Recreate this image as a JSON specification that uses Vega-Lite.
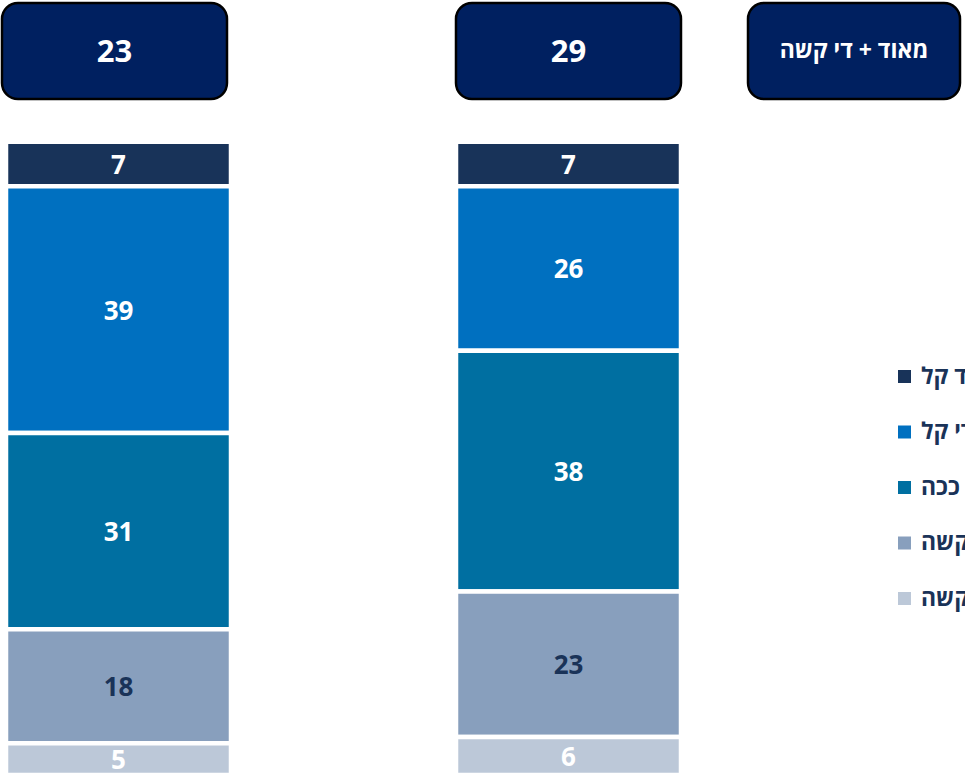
{
  "$schema": "https://vega.github.io/schema/vega-lite/v6.json",
  "width": 965,
  "height": 775,
  "padding": 0,
  "autosize": {"type": "none"},
  "background": "white",
  "config": {"view": {"stroke": null}, "font": "Open Sans"},
  "datasets": {
    "segments": [
      {"group": "A", "cat": "מאוד קל", "rank": 5, "value": 7},
      {"group": "A", "cat": "די קל", "rank": 4, "value": 39},
      {"group": "A", "cat": "ככה ככה", "rank": 3, "value": 31},
      {"group": "A", "cat": "די קשה", "rank": 2, "value": 18},
      {"group": "A", "cat": "מאוד קשה", "rank": 1, "value": 5},
      {"group": "B", "cat": "מאוד קל", "rank": 5, "value": 7},
      {"group": "B", "cat": "די קל", "rank": 4, "value": 26},
      {"group": "B", "cat": "ככה ככה", "rank": 3, "value": 38},
      {"group": "B", "cat": "די קשה", "rank": 2, "value": 23},
      {"group": "B", "cat": "מאוד קשה", "rank": 1, "value": 6}
    ],
    "totals": [
      {"group": "A", "row": "header", "total": 23},
      {"group": "B", "row": "header", "total": 29}
    ],
    "caption": [
      {"col": "label", "row": "header", "text": "מאוד + די קשה"}
    ]
  },
  "resolve": {"scale": {"x": "independent", "y": "independent"}},
  "layer": [
    {
      "data": {"name": "segments"},
      "layer": [
        {
          "mark": {"type": "bar", "stroke": "white", "strokeWidth": 4.5},
          "encoding": {
            "x": {"field": "group", "type": "nominal", "axis": null,
              "scale": {"domain": ["A", "B"], "paddingInner": 0.5, "paddingOuter": 0.32222, "align": 0.02069, "round": false}},
            "y": {"field": "value", "type": "quantitative", "stack": "zero", "axis": null,
              "scale": {"domain": [0, 122.4], "nice": false, "zero": true}},
            "color": {"field": "cat", "type": "nominal",
              "scale": {"domain": ["מאוד קל", "די קל", "ככה ככה", "די קשה", "מאוד קשה"],
                        "range": ["#183359", "#0070c0", "#006fa1", "#889fbd", "#bcc8d8"]},
              "legend": {"orient": "none", "legendX": 893, "legendY": 365, "direction": "vertical", "title": null,
                "symbolType": "square", "symbolSize": 169, "symbolStrokeWidth": 0, "padding": 0,
                "labelFont": "Open Sans", "labelFontWeight": "bold", "labelFontSize": 23, "labelColor": "#1a3358",
                "labelOffset": 5, "rowPadding": 31.5, "labelLimit": 0}},
            "order": {"field": "rank", "type": "quantitative"}
          }
        },
        {
          "mark": {"type": "text", "font": "Open Sans", "fontWeight": "bold", "fontSize": 26, "baseline": "middle", "align": "center", "dy": 2},
          "encoding": {
            "x": {"field": "group", "type": "nominal"},
            "y": {"field": "value", "type": "quantitative", "stack": "zero", "bandPosition": 0.5},
            "detail": {"field": "cat", "type": "nominal"},
            "order": {"field": "rank", "type": "quantitative"},
            "text": {"field": "value", "type": "quantitative"},
            "color": {"condition": {"test": "datum.cat === 'די קשה'", "value": "#1a3358"}, "value": "white"}
          }
        }
      ]
    },
    {
      "data": {"name": "totals"},
      "layer": [
        {
          "mark": {"type": "bar", "fill": "#002060", "stroke": "black", "strokeWidth": 2.5, "cornerRadius": 16},
          "encoding": {
            "x": {"field": "group", "type": "nominal", "axis": null,
              "scale": {"domain": ["A", "B"], "paddingInner": 0.5044, "paddingOuter": 0.315, "align": 0.007, "round": false}},
            "y": {"field": "row", "type": "nominal", "axis": null,
              "scale": {"domain": ["header"], "paddingInner": 0.7172, "paddingOuter": 1, "align": 0.00442, "round": false}}
          }
        },
        {
          "mark": {"type": "text", "font": "Open Sans", "fontWeight": "bold", "fontSize": 31, "color": "white", "baseline": "middle", "align": "center", "dy": 2},
          "encoding": {
            "x": {"field": "group", "type": "nominal"},
            "y": {"field": "row", "type": "nominal"},
            "text": {"field": "total", "type": "quantitative"}
          }
        }
      ]
    },
    {
      "data": {"name": "caption"},
      "layer": [
        {
          "mark": {"type": "bar", "fill": "#002060", "stroke": "black", "strokeWidth": 2.5, "cornerRadius": 16},
          "encoding": {
            "x": {"field": "col", "type": "nominal", "axis": null,
              "scale": {"domain": ["label"], "paddingInner": 0.43692, "paddingOuter": 1, "align": 0.99336, "round": false}},
            "y": {"field": "row", "type": "nominal", "axis": null,
              "scale": {"domain": ["header"], "paddingInner": 0.7172, "paddingOuter": 1, "align": 0.00442, "round": false}}
          }
        },
        {
          "mark": {"type": "text", "font": "Open Sans", "fontWeight": "bold", "fontSize": 23, "color": "white", "baseline": "middle", "align": "center"},
          "encoding": {
            "x": {"field": "col", "type": "nominal"},
            "y": {"field": "row", "type": "nominal"},
            "text": {"field": "text", "type": "nominal"}
          }
        }
      ]
    }
  ]
}
